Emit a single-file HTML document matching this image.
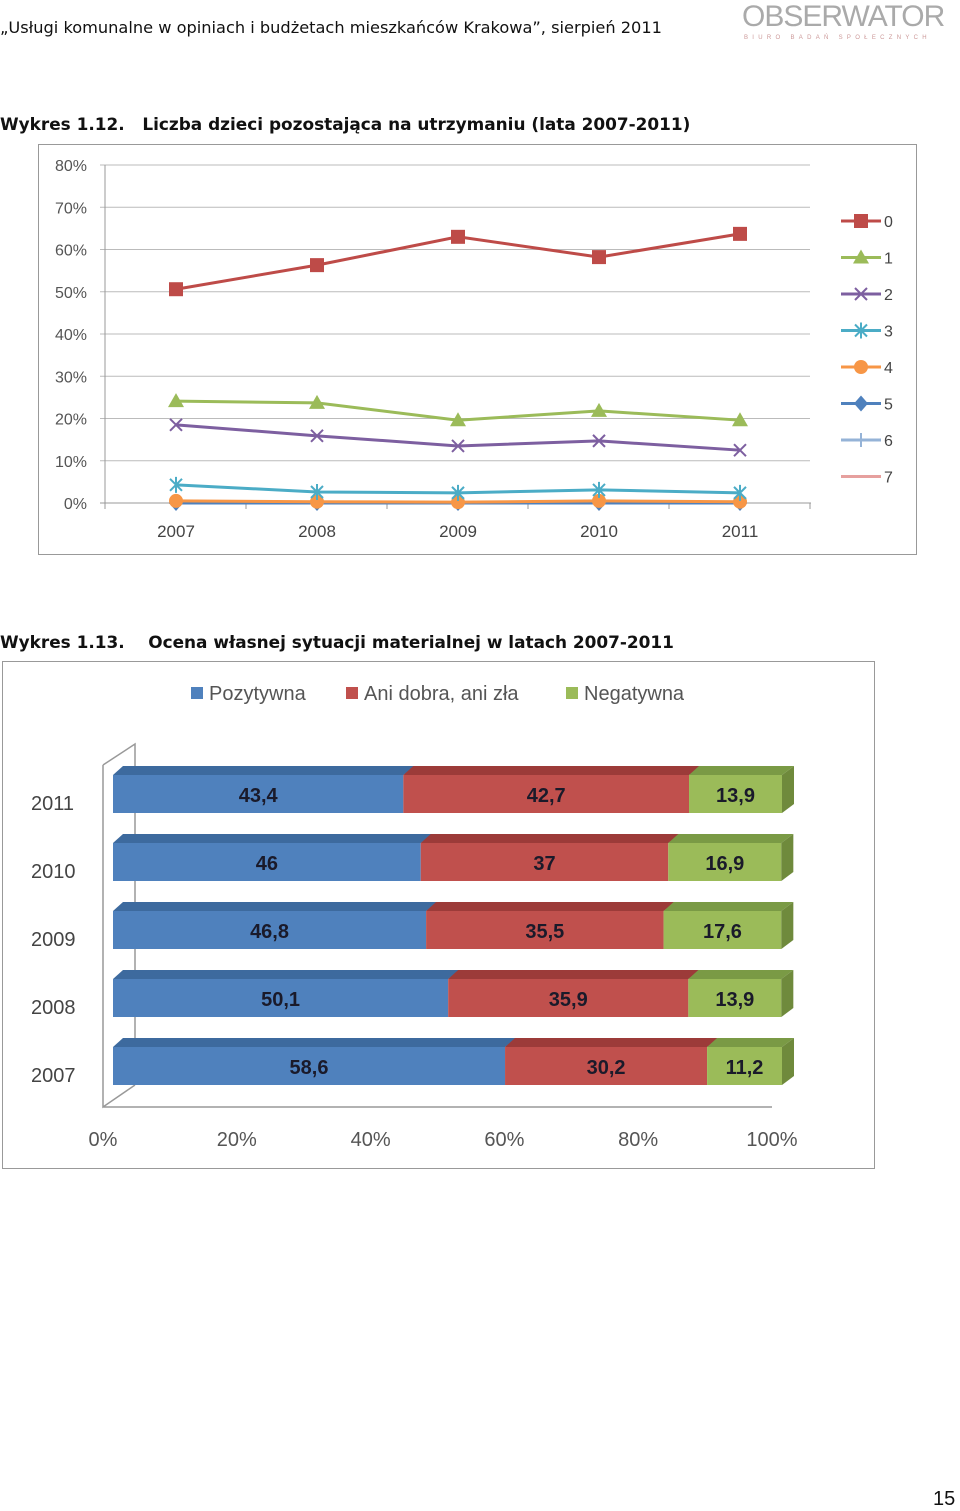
<!DOCTYPE html>
<html><head><meta charset="utf-8"><style>
body{margin:0;width:960px;height:1509px;background:#fff;font-family:"Liberation Sans","DejaVu Sans",sans-serif;position:relative;overflow:hidden}
.t{position:absolute;white-space:nowrap}
</style></head><body>
<div class="t" style="left:0;top:18px;font-size:16.2px;color:#111;font-family:'DejaVu Sans',sans-serif">„Usługi komunalne w opiniach i budżetach mieszkańców Krakowa”, sierpień 2011</div>
<div class="t" style="left:742px;top:0px;font-size:30px;color:#aaa;letter-spacing:-1px">OBSERWATOR</div>
<div class="t" style="left:744px;top:35px;font-size:6px;color:#c99;letter-spacing:4.3px">BIURO BADAŃ SPOŁECZNYCH</div>
<div class="t" style="left:0;top:114px;font-size:16.9px;font-weight:bold;color:#111;font-family:'DejaVu Sans',sans-serif">Wykres 1.12.&nbsp;&nbsp; Liczba dzieci pozostająca na utrzymaniu (lata 2007-2011)</div>
<div class="t" style="left:0;top:632px;font-size:16.9px;font-weight:bold;color:#111;font-family:'DejaVu Sans',sans-serif">Wykres 1.13.&nbsp;&nbsp;&nbsp; Ocena własnej sytuacji materialnej w latach 2007-2011</div>
<div class="t" style="left:933px;top:1488px;font-size:20px;color:#111">15</div>
<svg id="c1" style="position:absolute;left:0;top:0" width="960" height="600"></svg>
<svg id="c2" style="position:absolute;left:0;top:600px" width="960" height="600"></svg>
<script>
const years=["2007","2008","2009","2010","2011"];
const s0=[50.6,56.3,63,58.2,63.7];
const s1=[24.1,23.7,19.6,21.8,19.6];
const s2=[18.5,15.9,13.5,14.7,12.5];
const s3=[4.3,2.6,2.4,3.1,2.4];
const s4=[0.5,0.3,0.2,0.5,0.3];
const s5=[0,0,0,0,0];
const s6=[0,0,0,0,0];
const s7=[0.2,0.1,0.1,0.2,0.1];
const yTicks=[0,10,20,30,40,50,60,70,80];
const seriesNames=["0","1","2","3","4","5","6","7"];
const NS="http://www.w3.org/2000/svg";
function mk(p,t,a){const e=document.createElementNS(NS,t);for(const k in a)e.setAttribute(k,a[k]);p.appendChild(e);return e;}
const c1=document.getElementById('c1');
mk(c1,'rect',{x:38.5,y:144.5,width:878,height:410,fill:'#fff',stroke:'#999'});
const X=i=>176+i*141, Y=v=>503-v*4.225;
yTicks.forEach(t=>{
 if(t>0){const g=mk(c1,'line',{x1:100,x2:810,y1:Y(t),y2:Y(t),stroke:'#bbb'});}
 const l=mk(c1,'text',{x:87,y:Y(t)+6,'text-anchor':'end','font-size':16,fill:'#555'});l.textContent=t+'%';
 
});
mk(c1,'line',{x1:105,x2:105,y1:165,y2:508,stroke:'#999'});
mk(c1,'line',{x1:100,x2:811,y1:503,y2:503,stroke:'#999'});
for(let i=0;i<=5;i++)mk(c1,'line',{x1:105+i*141,x2:105+i*141,y1:503,y2:509,stroke:'#999'});
years.forEach((y,i)=>{const l=mk(c1,'text',{x:X(i),y:537,'text-anchor':'middle','font-size':17,fill:'#444'});l.textContent=y;
 });
const all=[s0,s1,s2,s3,s4,s5,s6,s7];
const cols=['#be4b48','#9bbb59','#7d5fa0','#4bacc6','#f79646','#4f81bd','#95b3d7','#e6a09e'];
const mark=(p,k,x,y,c)=>{
 if(k==0)mk(p,'rect',{x:x-7,y:y-7,width:14,height:14,fill:c});
 else if(k==1)mk(p,'polygon',{points:`${x},${y-8} ${x+8},${y+6} ${x-8},${y+6}`,fill:c});
 else if(k==2||k==3){mk(p,'path',{d:`M${x-6} ${y-6}L${x+6} ${y+6}M${x+6} ${y-6}L${x-6} ${y+6}`+(k==3?`M${x} ${y-8}V${y+8}`:''),stroke:c,'stroke-width':2});}
 else if(k==4)mk(p,'circle',{cx:x,cy:y,r:7,fill:c});
 else if(k==5)mk(p,'polygon',{points:`${x},${y-8} ${x+7},${y} ${x},${y+8} ${x-7},${y}`,fill:c});
 else if(k==6)mk(p,'path',{d:`M${x-7} ${y}H${x+7}M${x} ${y-7}V${y+7}`,stroke:c,'stroke-width':2});
};
[7,6,5,4,3,2,1,0].forEach(k=>{
 const d=all[k];const g=mk(c1,'g',{});
 
 mk(g,'polyline',{points:d.map((v,i)=>X(i)+','+Y(v)).join(' '),fill:'none',stroke:cols[k],'stroke-width':3});
 d.forEach((v,i)=>mark(g,k,X(i),Y(v),cols[k]));
});
seriesNames.forEach((n,k)=>{const y=221+k*36.5;const g=mk(c1,'g',{});
 
 mk(g,'line',{x1:841,x2:881,y1:y,y2:y,stroke:cols[k],'stroke-width':3});mark(g,k,861,y,cols[k]);
 const t=mk(g,'text',{x:884,y:y+6,'font-size':16,fill:'#444'});t.textContent=n;});

// chart 2
const barYears=["2011","2010","2009","2008","2007"];
const pos=[43.4,46,46.8,50.1,58.6];
const mid=[42.7,37,35.5,35.9,30.2];
const neg=[13.9,16.9,17.6,13.9,11.2];
const xTicks=[0,20,40,60,80,100];
const c2=document.getElementById('c2');const o=-600;
mk(c2,'rect',{x:2.5,y:661.5+o,width:872,height:507,fill:'#fff',stroke:'#999'});
const leg=[['Pozytywna','#4f81bd',191],['Ani dobra, ani zła','#c0504d',346],['Negatywna','#9bbb59',566]];
leg.forEach(l=>{const g=mk(c2,'g',{});
 mk(g,'rect',{x:l[2],y:687+o,width:12,height:12,fill:l[1]});const t=mk(g,'text',{x:l[2]+18,y:700+o,'font-size':20,fill:'#555'});t.textContent=l[0];});
mk(c2,'path',{d:`M103 ${765+o}L135 ${744+o}V${1085+o}M103 ${765+o}V${1107+o}L135 ${1085+o}M103 ${1107+o}H772`,fill:'none',stroke:'#999','stroke-width':1.5});
const BX=p=>113+p*6.69;
xTicks.forEach((t,i)=>{const l=mk(c2,'text',{x:103+t*6.69,y:1146+o,'text-anchor':'middle','font-size':20,fill:'#555'});l.textContent=t+'%';
 });
const dark=['#3d6a9e','#9c3b39','#7a9a45'],front=['#4f81bd','#c0504d','#9bbb59'];
barYears.forEach((yr,r)=>{
 const top=775+r*68+o,h=38;
 const l=mk(c2,'text',{x:31,y:top+35,'font-size':20,fill:'#444'});l.textContent=yr;
 
 const vals=[pos[r],mid[r],neg[r]];let acc=0;
 vals.forEach((v,k)=>{const x0=BX(acc),x1=BX(acc+v);acc+=v;
  const g=mk(c2,'g',{});
  mk(g,'polygon',{points:`${x0},${top} ${x0+10},${top-9} ${x1+12},${top-9} ${x1},${top}`,fill:dark[k]});
  mk(g,'rect',{x:x0,y:top,width:x1-x0,height:h,fill:front[k]});
  if(k==2)mk(g,'polygon',{points:`${x1},${top} ${x1+12},${top-9} ${x1+12},${top+h-9} ${x1},${top+h}`,fill:'#6f8a3c'});
  const t=mk(g,'text',{x:(x0+x1)/2,y:top+27,'text-anchor':'middle','font-size':20,'font-weight':'bold',fill:'#1a1a2a'});
  t.textContent=String(v).replace('.',',');});
});
</script>
</body></html>
